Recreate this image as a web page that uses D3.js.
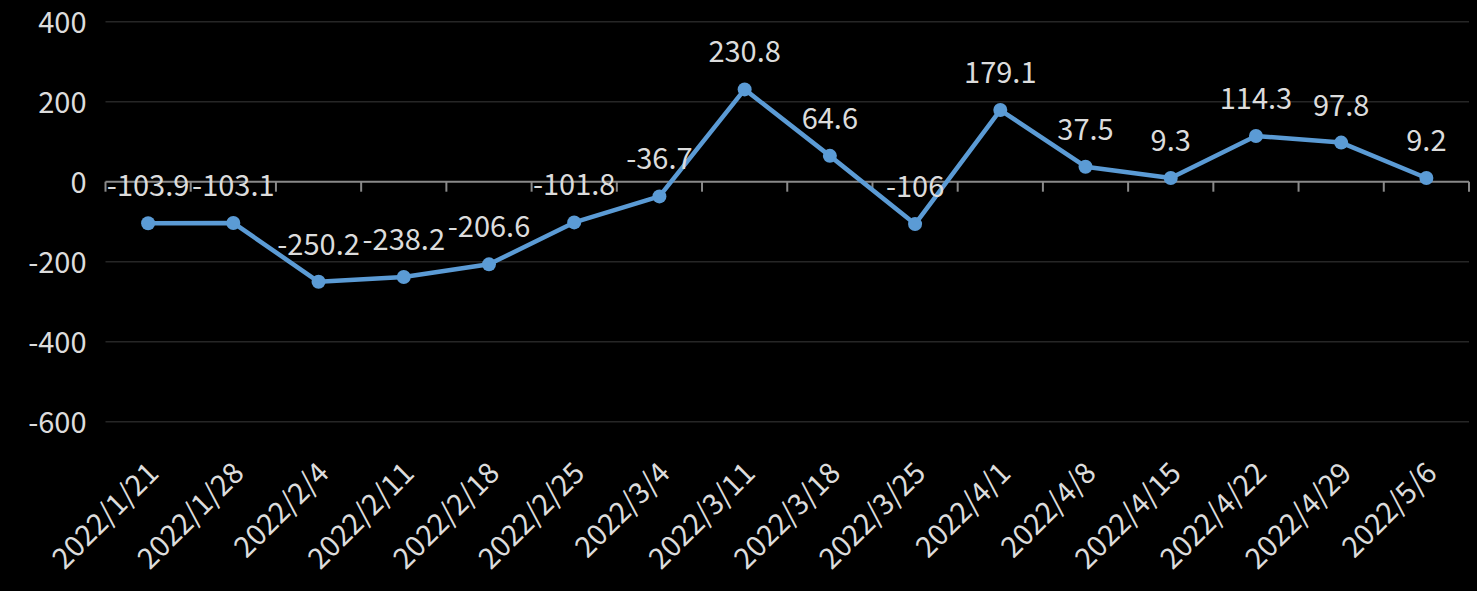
<!DOCTYPE html>
<html><head><meta charset="utf-8">
<script src="https://cdn.jsdelivr.net/npm/d3@7"></script>
<style>html,body{margin:0;padding:0;background:#000;}svg{display:block;}</style>
</head><body>
<svg id="chart" width="1477" height="591"></svg>
<script>
const categories = ["2022/1/21","2022/1/28","2022/2/4","2022/2/11","2022/2/18","2022/2/25","2022/3/4","2022/3/11","2022/3/18","2022/3/25","2022/4/1","2022/4/8","2022/4/15","2022/4/22","2022/4/29","2022/5/6"];
const values = [-103.9,-103.1,-250.2,-238.2,-206.6,-101.8,-36.7,230.8,64.6,-106,179.1,37.5,9.3,114.3,97.8,9.2];
const yTicks = [-600,-400,-200,0,200,400];

const svg = d3.select("#chart");
const W = 1477, H = 591;
const m = {left:105.5, right:8, top:21.7, bottom:169.3};
const font = "'Noto Sans CJK TC','Noto Sans',sans-serif";
const textColor = "#dcdcdc";
const fs = "29px";

svg.append("rect").attr("width",W).attr("height",H).attr("fill","#000");

const x = d3.scaleBand().domain(categories).range([m.left, W-m.right]).padding(0);
const y = d3.scaleLinear().domain([-600,400]).range([H-m.bottom, m.top]);

// gridlines
svg.append("g").selectAll("line").data(yTicks.filter(d=>d!==0)).join("line")
  .attr("x1", m.left).attr("x2", W-m.right)
  .attr("y1", d=>y(d)).attr("y2", d=>y(d))
  .attr("stroke","#262626").attr("stroke-width",1.5);

// y axis labels
const yAxis = d3.axisLeft(y).tickValues(yTicks).tickSize(0).tickPadding(0).tickFormat(d=>String(d));
const yg = svg.append("g").attr("transform",`translate(${m.left-19},0)`).call(yAxis);
yg.select(".domain").remove();
yg.selectAll("text").attr("fill",textColor).style("font-family",font).style("font-size",fs).attr("dy","0.38em");

// x axis at zero
const xAxis = d3.axisBottom(x).tickSize(0).tickFormat("");
const xg = svg.append("g").attr("transform",`translate(0,${y(0)})`).call(xAxis);
xg.select(".domain").attr("stroke","#898989").attr("stroke-width",2).attr("d",`M${m.left},0H${W-m.right}`);
// boundary tick marks
const bounds = categories.map(c=>x(c)).concat([x(categories[categories.length-1])+x.bandwidth()]);
svg.append("g").selectAll("line").data(bounds).join("line")
  .attr("x1",d=>d).attr("x2",d=>d).attr("y1",y(0)).attr("y2",y(0)+10)
  .attr("stroke","#898989").attr("stroke-width",2);

// x category labels (rotated)
svg.append("g").selectAll("text").data(categories).join("text")
  .attr("transform", d=>`translate(${x(d)+x.bandwidth()/2+5},${y(-600)+46}) rotate(-45)`)
  .attr("text-anchor","end").attr("dy","0.35em")
  .attr("fill",textColor).style("font-family",font).style("font-size",fs)
  .text(d=>d);

const cx = (d,i)=>x(categories[i])+x.bandwidth()/2;

// line
const line = d3.line().x((d,i)=>cx(d,i)).y(d=>y(d));
svg.append("path").datum(values).attr("d",line)
  .attr("fill","none").attr("stroke","#5b9bd5").attr("stroke-width",4.5).attr("stroke-linejoin","round");

// markers
svg.append("g").selectAll("circle").data(values).join("circle")
  .attr("cx",cx).attr("cy",d=>y(d)).attr("r",7).attr("fill","#5b9bd5");

// data labels
svg.append("g").selectAll("text").data(values).join("text")
  .attr("x",cx).attr("y",d=>y(d)-27)
  .attr("text-anchor","middle")
  .attr("fill",textColor).style("font-family",font).style("font-size",fs)
  .text(d=>String(d));
</script>
</body></html>
